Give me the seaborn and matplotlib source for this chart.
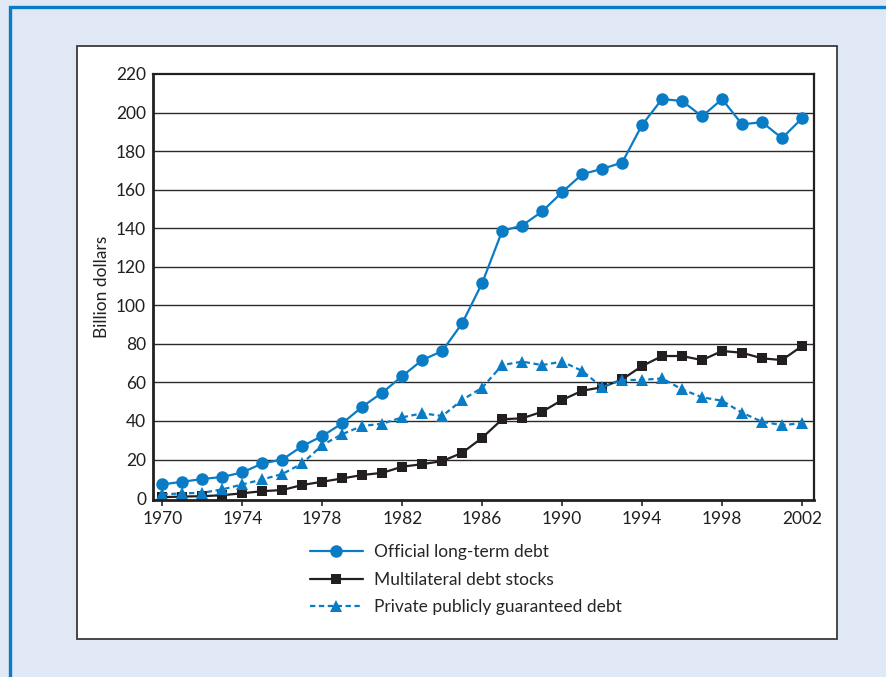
import numpy as np
import pandas as pd
import matplotlib
matplotlib.use("Agg")
import matplotlib.pyplot as plt
import seaborn as sns
from matplotlib.patches import Rectangle

years = list(range(1970, 2003))

official = [7.1, 8.5, 9.9, 11.0, 13.3, 18.0, 20.0, 27.0, 32.2, 38.8, 47.4, 54.7,
            63.3, 71.6, 76.3, 90.7, 111.6, 138.6, 141.4, 148.7, 158.7, 168.0,
            170.8, 174.0, 193.6, 207.0, 206.0, 198.0, 207.0, 193.9, 195.0, 186.7, 197.0]

multilateral = [0.5, 0.8, 1.0, 1.5, 2.5, 3.6, 4.2, 6.8, 8.5, 10.2, 12.0, 13.1,
                16.3, 17.6, 19.2, 23.5, 31.3, 40.9, 41.4, 44.8, 50.9, 55.7,
                57.5, 61.6, 68.5, 73.7, 73.7, 71.6, 76.3, 75.4, 72.5, 71.6, 78.9]

private = [2.0, 2.4, 2.8, 4.5, 7.1, 9.7, 12.5, 18.0, 27.5, 33.2, 37.4, 38.6,
           41.9, 44.0, 42.6, 50.9, 57.3, 69.0, 70.8, 69.0, 70.8, 66.0,
           57.5, 61.3, 61.3, 62.1, 56.4, 52.3, 50.5, 44.3, 39.6, 37.9, 38.8]

labels = ["Official long-term debt", "Multilateral debt stocks",
          "Private publicly guaranteed debt"]

blue = "#0a7cc5"
black = "#231f20"

sns.set_style("white")
plt.rcParams["font.family"] = ["Lato", "DejaVu Sans"]

fig = plt.figure(figsize=(8.87, 6.77), dpi=100)
fig.patch.set_facecolor("#e1e8f5")

# blue frame + white panel behind the axes
fig.patches.append(Rectangle((0.0113, -0.1), 1.2, 1.0897, transform=fig.transFigure,
                             facecolor="none", edgecolor=blue, lw=2.4, zorder=-3))
fig.patches.append(Rectangle((0.0868, 0.0561), 0.8568, 0.8759, transform=fig.transFigure,
                             facecolor="white", edgecolor="#3a3a3a", lw=1.3, zorder=-2))

ax = fig.add_axes([0.1725, 0.2614, 0.7452, 0.6293])
ax.set_zorder(1)
ax.set_facecolor("none")

sns.lineplot(x=years, y=official, ax=ax, color=blue, lw=1.6, marker="o",
             markersize=9, markeredgewidth=0, label=labels[0], zorder=3)
sns.lineplot(x=years, y=multilateral, ax=ax, color=black, lw=1.6, marker="s",
             markersize=6.5, markeredgewidth=0, label=labels[1], zorder=2)
sns.lineplot(x=years, y=private, ax=ax, color=blue, lw=1.6, marker="^",
             markersize=8.5, markeredgewidth=0, label=labels[2], zorder=2.5,
             linestyle=(0, (2.4, 1.6)))

ax.set_xlim(1969.53, 2002.6)
ax.set_ylim(-1, 220)
ax.set_xticks(range(1970, 2003, 4))
ax.set_yticks(range(0, 221, 20))
for v in range(20, 220, 20):
    ax.axhline(v, color="#2a2a2a", lw=1.0, zorder=1)

for s in ["left", "bottom"]:
    ax.spines[s].set_linewidth(2.0)
    ax.spines[s].set_color(black)
for s in ["top", "right"]:
    ax.spines[s].set_linewidth(1.6)
    ax.spines[s].set_color(black)

ax.tick_params(axis="y", length=0, pad=5, labelsize=12.5, labelcolor="#231f20")
ax.tick_params(axis="x", bottom=True, length=4, width=1.2, direction="out", pad=4,
               labelsize=12.5, labelcolor="#231f20")
ax.set_xlabel("")
ax.set_ylabel("Billion dollars", fontsize=12.5, labelpad=4, color="#231f20")

ax.get_legend().remove()
h, l = ax.get_legend_handles_labels()
fig.legend(h, l, loc="upper left", bbox_to_anchor=(0.35, 0.196), frameon=False,
           fontsize=12.5, handlelength=3.0, handletextpad=0.65, labelspacing=0.65,
           borderaxespad=0, borderpad=0)

fig.savefig("out.png", dpi=100, facecolor=fig.get_facecolor())
